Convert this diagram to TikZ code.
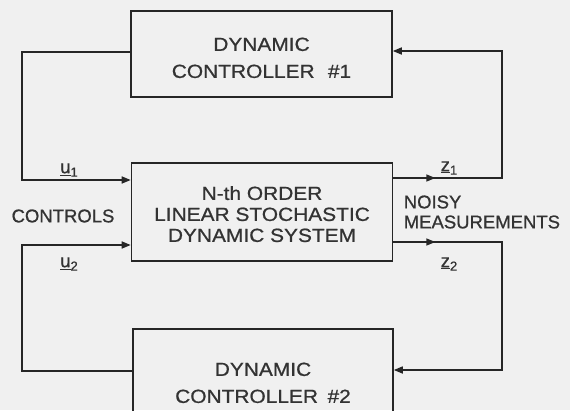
\documentclass[tikz,border=0pt]{standalone}
\usepackage{fontspec}
\setmainfont{Liberation Sans}[FakeBold=0.8]
\newfontfamily\boxfont{Liberation Sans}[FakeStretch=1.1, FakeBold=0.8]
\usepackage{tikz}
\usetikzlibrary{positioning, arrows.meta, calc, decorations.markings}

\newcommand{\vlabel}[2]{\underline{#1}\raisebox{-0.35ex}{\fontsize{13}{13}\selectfont #2}}

\begin{document}
\begin{tikzpicture}[x=1pt, y=-1pt, line width=1.6pt, draw=black!85, text=black!80,
    >={Triangle[length=9pt, width=7pt]},
    box/.style={draw, rectangle, minimum width=261pt, minimum height=86pt, align=center,
        text height=48pt, font=\boxfont\fontsize{19}{27}\selectfont},
    lbl/.style={font=\fontsize{18.5}{20}\selectfont, align=left},
    sublbl/.style={font=\fontsize{18.5}{20}\selectfont},
    midarrow/.style={postaction={decorate}, decoration={markings,
        mark=at position 42pt with {\arrow{Triangle[length=9pt, width=7pt]}}}}]

    % Paper
    \fill[black!6] (0,0) rectangle (570,410);
    \useasboundingbox (0,0) rectangle (570,410);
    \clip (0,0) rectangle (570,410);

    % Blocks
    \node[box] (ctrl1) at (261.5,54) {DYNAMIC\\CONTROLLER\hspace{0.7em}\#1};
    \node[box, minimum height=98pt, text height=60pt, font=\boxfont\fontsize{19}{21}\selectfont]
        (sys) at (262,212) {N-th ORDER\\LINEAR STOCHASTIC\\DYNAMIC SYSTEM};
    \node[box, minimum width=260pt, minimum height=96pt, text height=52pt] (ctrl2) at (263,377)
        {DYNAMIC\\CONTROLLER\hspace{0.5em}\#2};

    % Loop corners and ports
    \coordinate (ul) at (22,52);
    \coordinate (ur) at (502,51);
    \coordinate (ll) at (22,371);
    \coordinate (lr) at (502,370);
    \coordinate (u1) at (sys.west |- 0,180);
    \coordinate (u2) at (sys.west |- 0,245);
    \coordinate (z1) at (sys.east |- 0,178);
    \coordinate (z2) at (sys.east |- 0,242);

    % Controls
    \draw[->] (ctrl1.west |- ul) -- (ul) |- (u1);
    \draw[->] (ctrl2.west |- ll) -- (ll) |- (u2);

    % Measurements
    \draw[->, midarrow] (z1) -| (ur) -- (ctrl1.east |- ur);
    \draw[->, midarrow] (z2) -| (lr) -- (ctrl2.east |- lr);

    % Labels
    \node[sublbl] (u1lbl) at (69,170) {\vlabel{u}{1}};
    \node[sublbl] (u2lbl) at (69,264) {\vlabel{u}{2}};
    \node[sublbl] (z1lbl) at (449,168) {\vlabel{z}{1}};
    \node[sublbl] (z2lbl) at (449,264) {\vlabel{z}{2}};
    \node[lbl] (ctrls) at (63,216) {CONTROLS};
    \node[lbl, anchor=west, inner sep=0pt] (meas) at (403,212) {NOISY\\MEASUREMENTS};

\end{tikzpicture}
\end{document}
